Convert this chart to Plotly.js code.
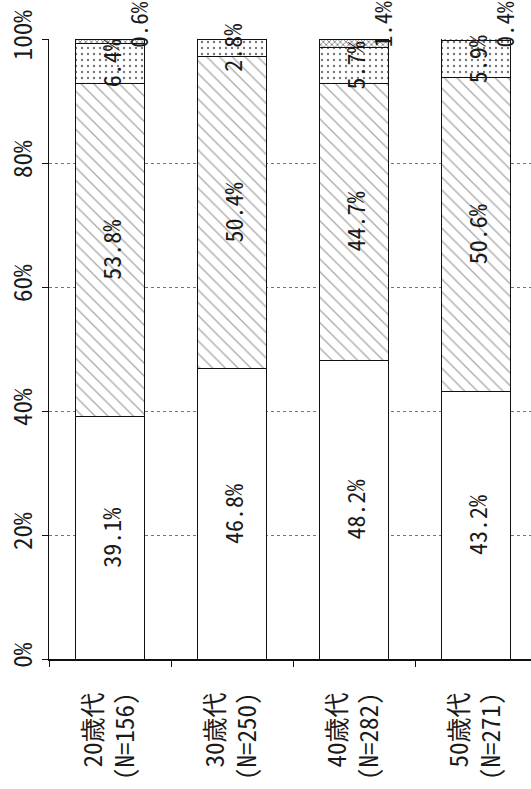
<!DOCTYPE html>
<html>
<head>
<meta charset="utf-8">
<script src="https://cdn.plot.ly/plotly-3.0.1.min.js"></script>
<style>html,body{margin:0;padding:0;background:#fff;}#chart{width:531px;height:789px;}</style>
</head>
<body>
<div id="chart"></div>
<script>
// Categories (age groups with sample size)
const categories = ["20歳代<br>(N=156)", "30歳代<br>(N=250)", "40歳代<br>(N=282)", "50歳代<br>(N=271)"];
// Stacked shares (%), bottom to top
const series1 = [39.1, 46.8, 48.2, 43.2];
const series2 = [53.8, 50.4, 44.7, 50.6];
const series3 = [6.4, 2.8, 5.7, 5.9];
const series4 = [0.6, null, 1.4, 0.4];
const yTicks = [0, 20, 40, 60, 80, 100];

const FONT = "'Noto Sans Mono CJK JP', 'Noto Sans CJK JP', 'Liberation Sans', sans-serif";
const fmt = v => (v == null ? "" : v.toFixed(1) + "%");

function barTrace(vals, pattern, showText) {
  return {
    type: "bar",
    x: categories,
    y: vals,
    width: 0.56,
    text: showText ? vals.map(fmt) : vals.map(() => ""),
    textposition: showText ? "inside" : "none",
    insidetextanchor: "middle",
    constraintext: "none",
    textangle: -90,
    textfont: {family: FONT, size: 24, color: "#1a1a1a"},
    marker: {
      color: "#ffffff",
      line: {color: "#111", width: 1},
      pattern: pattern
    },
    hoverinfo: "skip"
  };
}

const traces = [
  barTrace(series1, {shape: ""}, true),
  barTrace(series2, {shape: "\\", fgcolor: "#aaa", bgcolor: "#fff", size: 9, solidity: 0.15}, true),
  barTrace(series3, {shape: ".", fgcolor: "#777", bgcolor: "#fff", size: 6, solidity: 0.12}, false),
  barTrace(series4, {shape: "x", fgcolor: "#555", bgcolor: "#fff", size: 4, solidity: 0.3}, false)
];

// labels of the small segments (drawn as annotations so they stay above the bars)
const annotations = [];
categories.forEach((c, i) => {
  const base3 = series1[i] + series2[i];
  annotations.push({
    x: c, y: base3 + series3[i] / 2, xref: "x", yref: "y",
    text: fmt(series3[i]), showarrow: false, textangle: -90,
    xanchor: "center", yanchor: "middle",
    font: {family: FONT, size: 24, color: "#1a1a1a"}
  });
  if (series4[i] != null) {
    // anchor kept inside the axis range so the label is not hidden
    const top = Math.min(base3 + series3[i] + series4[i], 99.95);
    annotations.push({
      x: c, y: top, xref: "x", yref: "y",
      text: fmt(series4[i]), showarrow: false, textangle: -90,
      xanchor: "center", yanchor: "middle", xshift: 28, yshift: 15,
      font: {family: FONT, size: 23, color: "#1a1a1a"}
    });
  }
});

const layout = {
  width: 531, height: 789,
  margin: {l: 49, r: 0, t: 39, b: 130},
  paper_bgcolor: "#fff", plot_bgcolor: "#fff",
  barmode: "stack",
  showlegend: false,
  font: {family: FONT, color: "#1a1a1a"},
  xaxis: {
    type: "category",
    range: [-0.5, 3.45],
    showline: true, linecolor: "#111", linewidth: 1.5,
    ticks: "outside", tickson: "boundaries", ticklen: 6, tickcolor: "#111",
    tickangle: -90,
    ticklabelstandoff: 22,
    tickfont: {family: FONT, size: 25, color: "#1a1a1a"},
    showgrid: false, zeroline: false, fixedrange: true
  },
  yaxis: {
    range: [0, 100],
    tickvals: yTicks,
    ticktext: yTicks.map(v => v + "%"),
    showline: true, linecolor: "#111", linewidth: 1.5,
    ticks: "outside", ticklen: 6, tickcolor: "#111",
    tickangle: -90,
    tickfont: {family: FONT, size: 25, color: "#1a1a1a"},
    showgrid: true, gridcolor: "#777", griddash: "dot", gridwidth: 1,
    zeroline: false, fixedrange: true
  },
  annotations: annotations
};

Plotly.newPlot("chart", traces, layout, {staticPlot: true, displayModeBar: false});
</script>
</body>
</html>
